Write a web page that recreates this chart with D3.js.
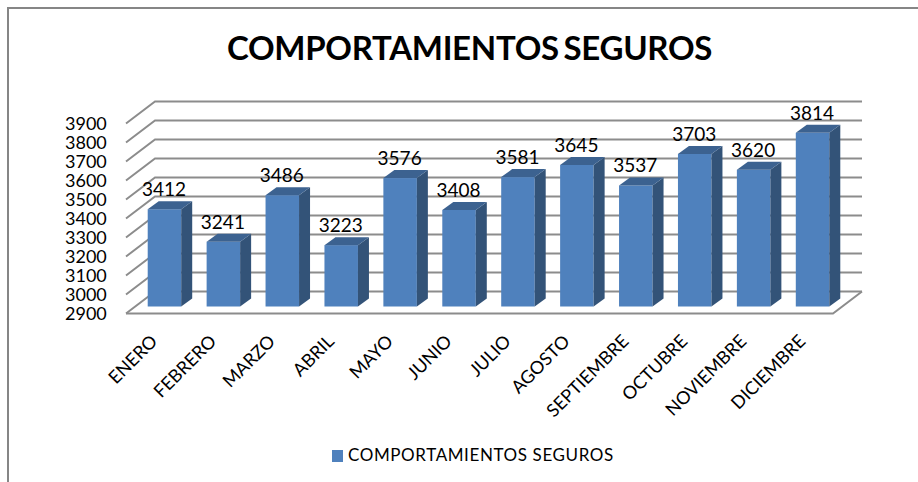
<!DOCTYPE html>
<html><head><meta charset="utf-8">
<script src="https://cdn.jsdelivr.net/npm/d3@7/dist/d3.min.js"></script>
<style>html,body{margin:0;padding:0;background:#fff}svg{display:block}text{font-family:Lato,"Open Sans",sans-serif;fill:#000}</style>
</head><body><svg id="c" width="918" height="482"></svg>
<script>
const months = ["ENERO","FEBRERO","MARZO","ABRIL","MAYO","JUNIO","JULIO","AGOSTO","SEPTIEMBRE","OCTUBRE","NOVIEMBRE","DICIEMBRE"];
const seguros = [3412,3241,3486,3223,3576,3408,3581,3645,3537,3703,3620,3814];
const yTicks = [2900,3000,3100,3200,3300,3400,3500,3600,3700,3800,3900];
const chartTitle = "COMPORTAMIENTOS SEGUROS";
const seriesName = "COMPORTAMIENTOS SEGUROS";

const svg = d3.select("#c");
const x = d3.scaleBand().domain(months).range([126,833]).paddingInner(0).paddingOuter(0);
const y = d3.scaleLinear().domain([2900,3900]).range([313.5,123.5]);
const wall = {dx:29, dy:-22};
const barW = 33.5, barOff = {dx:9, dy:-7}, side = {dx:11, dy:-8};
const pts = a => a.map(p=>p.join(",")).join(" ");
const x0 = x.range()[0], x1 = x.range()[1];

// outer frame (left and top edges)
svg.append("polyline").attr("points",pts([[8,482],[8,8],[918,8]])).attr("fill","none").attr("stroke","#868686").attr("stroke-width",2);

// gridlines: back wall + left wall
const g = svg.append("g").attr("stroke","#8c8c8c").attr("stroke-width",2).attr("fill","none");
yTicks.forEach(t=>{
  const yy = y(t);
  g.append("polyline").attr("points",pts([[x0,yy],[x0+wall.dx,yy+wall.dy],[x1+wall.dx,yy+wall.dy]]));
});
g.append("polyline").attr("points",pts([[x0,y(2900)],[x1,y(2900)],[x1+wall.dx,y(2900)+wall.dy]]));

// value axis labels
svg.append("g").selectAll("text").data(yTicks).join("text")
  .attr("x",65).attr("y",d=>y(d)+6.5).attr("font-size",18).text(d=>d);

// bars
const bars = svg.append("g").selectAll("g").data(months.map((m,i)=>({m,v:seguros[i]}))).join("g");
const cx = d=>x(d.m)+x.bandwidth()/2+barOff.dx-barW/2;
const yb = y(2900)+barOff.dy;
const yt = d=>y(d.v)+barOff.dy;
bars.append("rect").attr("x",cx).attr("y",yt).attr("width",barW).attr("height",d=>yb-yt(d)).attr("fill","#4f81bd");
bars.append("polygon").attr("fill","#335378").attr("points",d=>pts([[cx(d)+barW,yt(d)],[cx(d)+barW+side.dx,yt(d)+side.dy],[cx(d)+barW+side.dx,yb+side.dy],[cx(d)+barW,yb]]));
bars.append("polygon").attr("fill","#3c6290").attr("points",d=>pts([[cx(d),yt(d)],[cx(d)+side.dx,yt(d)+side.dy],[cx(d)+barW+side.dx,yt(d)+side.dy],[cx(d)+barW,yt(d)]]));
bars.append("text").attr("x",d=>cx(d)+barW/2-0.5).attr("y",d=>yt(d)-13).attr("text-anchor","middle").attr("font-size",19).text(d=>d.v);

// category labels
svg.append("g").selectAll("text").data(months).join("text")
  .attr("text-anchor","end").attr("font-size",18)
  .attr("transform",m=>`translate(${x(m)+x.bandwidth()/2+3},${y(2900)+29}) rotate(-45)`)
  .text(m=>m);

// title
svg.append("text").attr("x",469.5).attr("y",60).attr("text-anchor","middle").attr("font-size",33).attr("font-weight",700).attr("word-spacing",-3).attr("letter-spacing",-0.3).text(chartTitle);

// legend
svg.append("rect").attr("x",332).attr("y",450).attr("width",11).attr("height",12).attr("fill","#4f81bd");
svg.append("text").attr("x",348).attr("y",461).attr("font-size",17).attr("letter-spacing",0.6).text(seriesName);
</script></body></html>
